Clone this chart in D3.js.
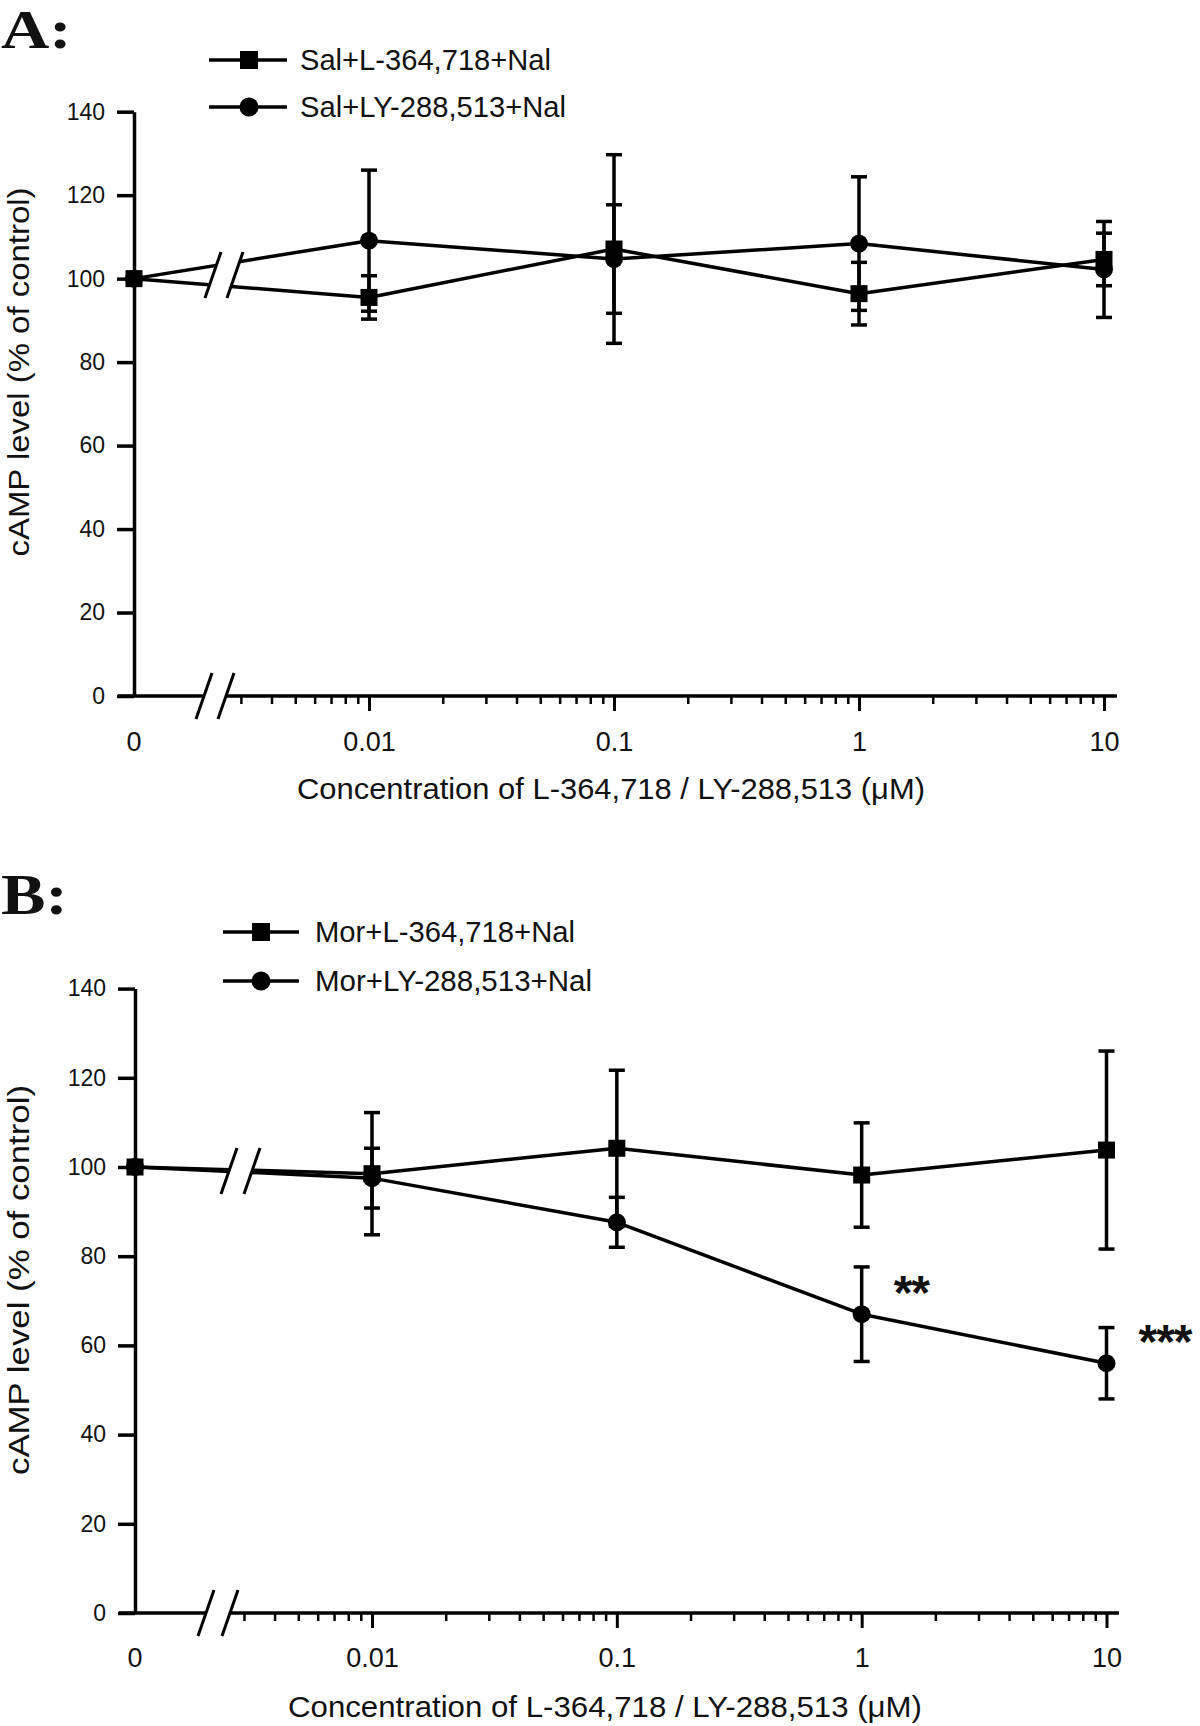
<!DOCTYPE html>
<html>
<head>
<meta charset="utf-8">
<script src="https://cdn.jsdelivr.net/npm/d3@7"></script>
<style>
  body { margin: 0; background: #fff; }
  svg text { font-family: "Liberation Sans", Arial, sans-serif; fill: #111; }
</style>
</head>
<body>
<svg id="chart" width="1200" height="1726"></svg>
<script>
// ---------------- DATA ----------------
const concentrations = [0, 0.01, 0.1, 1, 10];           // µM
const xTickValues = [0.01, 0.1, 1, 10];
const xTickLabels = ["0.01", "0.1", "1", "10"];
const zeroLabel = "0";
const yTickValues = [0, 20, 40, 60, 80, 100, 120, 140];

// Panel A
const salL_mean  = [100, 95.5, 107.1, 96.4, 104.6];
const salL_err   = [0, 5.2, 22.6, 7.5, 6.3];
const salLY_mean = [100, 109.1, 104.7, 108.4, 102.2];
const salLY_err  = [0, 16.9, 13.0, 16.0, 11.5];
// Panel B
const morL_mean  = [100, 98.5, 104.2, 98.2, 103.8];
const morL_err   = [0, 13.7, 17.5, 11.7, 22.2];
const morLY_mean = [100, 97.5, 87.6, 67.0, 56.0];
const morLY_err  = [0, 6.7, 5.6, 10.6, 8.0];

const seriesNamesA = ["Sal+L-364,718+Nal", "Sal+LY-288,513+Nal"];
const seriesNamesB = ["Mor+L-364,718+Nal", "Mor+LY-288,513+Nal"];
const markerShapes = ["square", "circle"];
const significanceB = [{ conc: 1, label: "**" }, { conc: 10, label: "***" }];
const panelLetters = ["A:", "B:"];
const xTitle = "Concentration of L-364,718 / LY-288,513 (\u03bcM)";
const yTitle = "cAMP level (% of control)";

// ---------------- LAYOUT ----------------
const layoutA = {
  xAxis: 134, x001: 369, x10: 1104, y0: 696, y140: 111.7,
  axisLeft: 118, axisRight: 1117, axisBreak: [204, 226], dataBreak: [213, 235],
  tickLabelY: 741, titleX: 611, titleY: 788, titleLen: 628,
  yTitleX: 18, yTitleY: 372, yTitleLen: 369,
  letterX: 1, letterY: 48, letterSize: 54, letterScale: 1.24,
  legLine: [209, 287], legMarkerX: 249, legRows: [60, 107], legTextX: 300, legTextLens: [251, 266]
};
const layoutB = {
  xAxis: 135, x001: 372, x10: 1106.5, y0: 1613, y140: 988.6,
  axisLeft: 119, axisRight: 1119, axisBreak: [206, 230], dataBreak: [229, 252],
  tickLabelY: 1657, titleX: 605, titleY: 1706, titleLen: 634,
  yTitleX: 18, yTitleY: 1280, yTitleLen: 390,
  letterX: 1, letterY: 914, letterSize: 57, letterScale: 1.17,
  legLine: [223, 299], legMarkerX: 261, legRows: [932, 981], legTextX: 315, legTextLens: [260, 277]
};

const LW = 3.5;
const svg = d3.select("#chart");

function drawBreak(g, cxs, cy, halfH, dx) {
  g.append("polygon")
    .attr("points", [
      [cxs[0] - dx, cy + halfH], [cxs[0] + dx, cy - halfH],
      [cxs[1] + dx, cy - halfH], [cxs[1] - dx, cy + halfH]
    ].map(p => p.join(",")).join(" "))
    .attr("fill", "#fff");
  cxs.forEach(cx => {
    g.append("line")
      .attr("x1", cx - dx).attr("y1", cy + halfH)
      .attr("x2", cx + dx).attr("y2", cy - halfH)
      .attr("stroke", "#000").attr("stroke-width", 3);
  });
}

function marker(g, shape, cx, cy, size) {
  if (shape === "square") {
    g.append("rect").attr("x", cx - size / 2).attr("y", cy - size / 2)
      .attr("width", size).attr("height", size).attr("fill", "#000");
  } else {
    g.append("circle").attr("cx", cx).attr("cy", cy).attr("r", size / 2 + 0.5).attr("fill", "#000");
  }
}

function drawPanel(p, letter, names, series, signif) {
  const g = svg.append("g");
  const y = d3.scaleLinear().domain([0, 140]).range([p.y0, p.y140]);
  const xl = d3.scaleLog().domain([0.01, 10]).range([p.x001, p.x10]);
  const xp = c => (c === 0 ? p.xAxis : xl(c));

  // panel letter
  g.append("text")
    .attr("transform", `translate(${p.letterX},${p.letterY}) scale(${p.letterScale},1)`)
    .style("font-family", "'Liberation Serif', 'Times New Roman', serif")
    .style("font-weight", "bold").style("font-size", p.letterSize + "px")
    .text(letter);

  // y axis
  const ya = g.append("g").attr("transform", `translate(${p.xAxis},0)`)
    .call(d3.axisLeft(y).tickValues(yTickValues).tickSize(17).tickSizeOuter(0).tickPadding(12));
  ya.select(".domain").attr("stroke", "#000").attr("stroke-width", LW);
  ya.selectAll(".tick line").attr("stroke", "#000").attr("stroke-width", LW);
  ya.selectAll(".tick text").style("font-size", "23px").attr("fill", "#111");

  // x axis line
  g.append("line").attr("x1", p.axisLeft).attr("x2", p.axisRight)
    .attr("y1", p.y0).attr("y2", p.y0).attr("stroke", "#000").attr("stroke-width", LW);

  // minor ticks
  const minor = d3.scaleLog().domain([0.003, 10]).ticks()
    .filter(v => !xTickValues.some(t => Math.abs(t - v) / t < 1e-6));
  const xMinor = g.append("g").attr("transform", `translate(0,${p.y0})`)
    .call(d3.axisBottom(xl).tickValues(minor).tickSize(8).tickFormat(""));
  xMinor.select(".domain").remove();
  xMinor.selectAll(".tick line").attr("stroke", "#000").attr("stroke-width", 2.5);

  // major ticks
  const xMajor = g.append("g").attr("transform", `translate(0,${p.y0})`)
    .call(d3.axisBottom(xl).tickValues(xTickValues).tickSize(15)
      .tickFormat((d, i) => xTickLabels[i]));
  xMajor.select(".domain").remove();
  xMajor.selectAll(".tick line").attr("stroke", "#000").attr("stroke-width", 3);
  xMajor.selectAll(".tick text").attr("y", p.tickLabelY - p.y0).attr("dy", "0.36em")
    .style("font-size", "27px").attr("fill", "#111");

  // "0" label under the y axis
  g.append("text").attr("x", p.xAxis).attr("y", p.tickLabelY).attr("dy", "0.36em")
    .attr("text-anchor", "middle").style("font-size", "27px").text(zeroLabel);

  // axis break on x axis
  drawBreak(g, p.axisBreak, p.y0, 23, 8);

  // axis titles
  g.append("text").attr("x", p.titleX).attr("y", p.titleY).attr("dy", "0.36em")
    .attr("text-anchor", "middle").style("font-size", "30px")
    .attr("textLength", p.titleLen).attr("lengthAdjust", "spacingAndGlyphs")
    .text(xTitle);
  g.append("text")
    .attr("transform", `translate(${p.yTitleX},${p.yTitleY}) rotate(-90)`)
    .attr("dy", "0.36em").attr("text-anchor", "middle").style("font-size", "30px")
    .attr("textLength", p.yTitleLen).attr("lengthAdjust", "spacingAndGlyphs")
    .text(yTitle);

  // data lines
  const line = d3.line().x(d => xp(d.c)).y(d => y(d.m));
  const seriesData = series.map(s => concentrations.map((c, i) => ({ c, m: s.mean[i], e: s.err[i] })));
  seriesData.forEach(sd => {
    g.append("path").datum(sd).attr("d", line)
      .attr("fill", "none").attr("stroke", "#000").attr("stroke-width", LW)
      .attr("stroke-linejoin", "round");
  });

  // data break (between 0 and 0.01)
  const bx = (p.dataBreak[0] + p.dataBreak[1]) / 2;
  const t = (bx - xp(0)) / (xp(0.01) - xp(0));
  const by = d3.mean(seriesData, sd => y(sd[0].m) + (y(sd[1].m) - y(sd[0].m)) * t);
  drawBreak(g, p.dataBreak, by, 23, 8);

  // error bars
  seriesData.forEach(sd => {
    sd.forEach(d => {
      if (d.e > 0) {
        const cx = xp(d.c), yT = y(d.m + d.e), yB = y(d.m - d.e);
        g.append("line").attr("x1", cx).attr("x2", cx).attr("y1", yT).attr("y2", yB)
          .attr("stroke", "#000").attr("stroke-width", 3.5);
        [yT, yB].forEach(yy => g.append("line").attr("x1", cx - 8).attr("x2", cx + 8)
          .attr("y1", yy).attr("y2", yy).attr("stroke", "#000").attr("stroke-width", 3.5));
      }
    });
  });
  // markers
  seriesData.forEach((sd, si) => {
    sd.forEach(d => marker(g, markerShapes[si], xp(d.c), y(d.m), 17));
  });

  // significance marks (next to the LY series points)
  if (signif) {
    const sd = seriesData[1];
    signif.forEach(s => {
      const d = sd[concentrations.indexOf(s.conc)];
      g.append("text").attr("x", xp(s.conc) + 32).attr("y", y(d.m) - 34 + 29)
        .style("font-size", "48px").style("font-weight", "bold")
        .style("letter-spacing", "-1px")
        .text(s.label);
    });
  }

  // legend
  names.forEach((name, i) => {
    const ry = p.legRows[i];
    g.append("line").attr("x1", p.legLine[0]).attr("x2", p.legLine[1])
      .attr("y1", ry).attr("y2", ry).attr("stroke", "#000").attr("stroke-width", LW);
    marker(g, markerShapes[i], p.legMarkerX, ry, 18);
    g.append("text").attr("x", p.legTextX).attr("y", ry).attr("dy", "0.36em")
      .style("font-size", "29px")
      .attr("textLength", p.legTextLens[i]).attr("lengthAdjust", "spacingAndGlyphs")
      .text(name);
  });
}

drawPanel(layoutA, panelLetters[0], seriesNamesA, [
  { mean: salL_mean, err: salL_err },
  { mean: salLY_mean, err: salLY_err }
], null);

drawPanel(layoutB, panelLetters[1], seriesNamesB, [
  { mean: morL_mean, err: morL_err },
  { mean: morLY_mean, err: morLY_err }
], significanceB);
</script>
</body>
</html>
